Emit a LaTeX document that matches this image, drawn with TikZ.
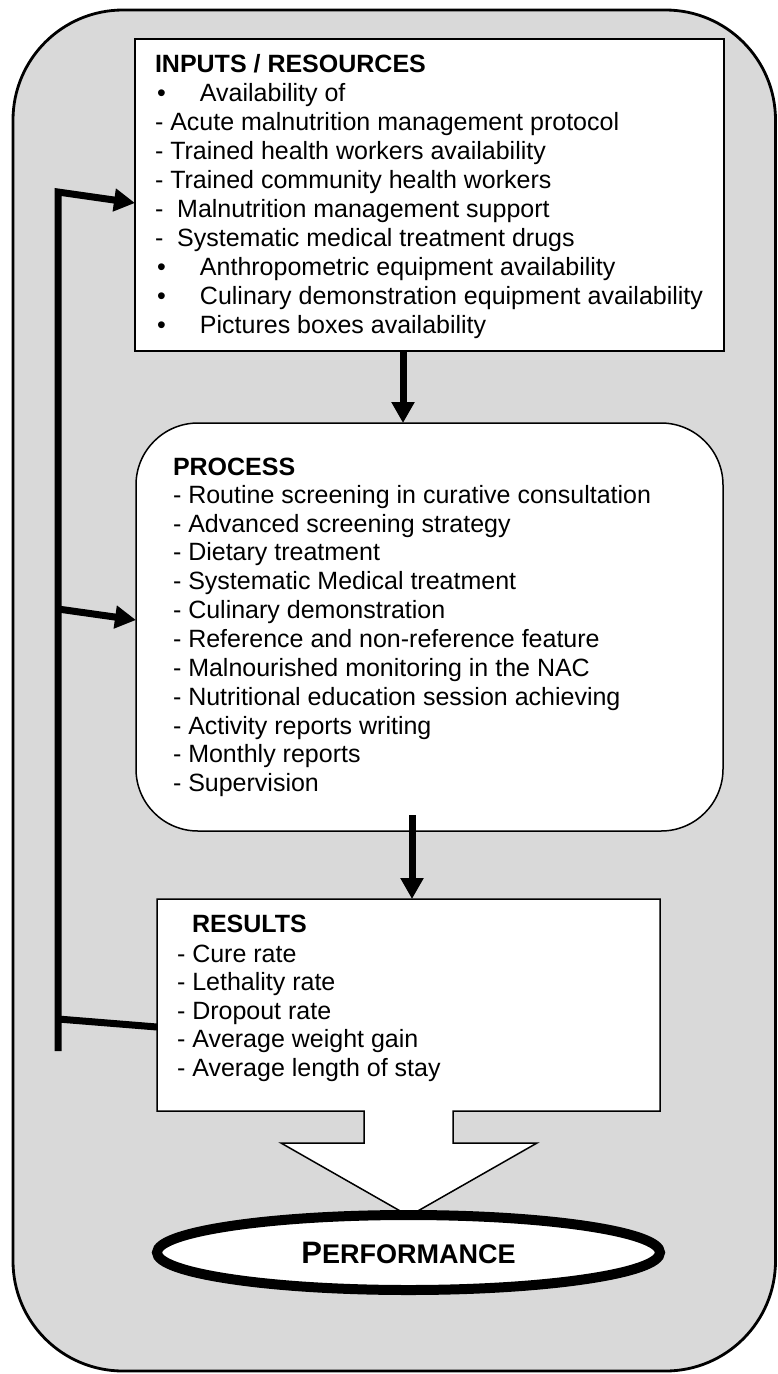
\documentclass[tikz,border=0pt]{standalone}
\usepackage{fontspec}
\setmainfont{Liberation Sans}
\usetikzlibrary{arrows.meta,shapes.geometric}
\definecolor{bg}{HTML}{D9D9D9}
\newcommand\mybul{\makebox[45pt][l]{\hspace{2pt}•}}
\begin{document}
\begin{tikzpicture}[x=1pt,y=-1pt,
  txt/.style={anchor=base west, inner sep=0, outer sep=0, font=\fontsize{25}{29}\selectfont},
  ttl/.style={txt, font=\fontsize{25}{29}\selectfont\bfseries},
  box/.style={draw, line width=1.5pt, fill=white, inner sep=0, outer sep=0, anchor=north west},
  flow/.style={line width=7pt, -{Triangle[length=21pt,width=22pt]}},
  fb/.style={line width=7pt}]
\useasboundingbox (0,0) rectangle (777,1374);
% frame
\node[draw, line width=2.8pt, fill=bg, rounded corners=110pt, inner sep=0, outer sep=0,
      anchor=north west, minimum width=762.5pt, minimum height=1361pt] (frame) at (13,10) {};
% boxes
\node[box, minimum width=589pt, minimum height=312pt] (inputs) at (135,39) {};
\node[box, rounded corners=62pt, minimum width=587pt, minimum height=408pt] (process) at (136,423) {};
\node[inner sep=0, outer sep=0, anchor=north west, minimum width=503pt, minimum height=212pt] (results) at (157,899) {};
\draw[line width=1.5pt, fill=white, line join=miter]
  (results.north west) -- (results.north east) -- (results.south east)
  -- (453,1111) -- (453,1143) -- (537,1143) -- (409,1216) -- (281,1143)
  -- (364,1143) -- (364,1111) -- (results.south west) -- cycle;
\node[ellipse, draw, line width=10pt, fill=white, minimum width=503pt, minimum height=75pt, inner sep=0]
  (perf) at (408.5,1252.5) {\fontsize{31}{31}\selectfont\bfseries P\fontsize{27}{27}\selectfont ERFORMANCE};
% texts
\node[ttl] (in-t) at (155,72) {INPUTS / RESOURCES};
\foreach \t [count=\k] in {\mybul Availability of,
  - Acute malnutrition management protocol,
  - Trained health workers availability,
  - Trained community health workers,
  -\ \ Malnutrition management support,
  -\ \ Systematic medical treatment drugs,
  \mybul Anthropometric equipment availability,
  \mybul Culinary demonstration equipment availability,
  \mybul Pictures boxes availability}
  \node[txt] (in-\k) at (155,72.7+29*\k) {\t};
\node[ttl] (pr-t) at (173,475) {PROCESS};
\foreach \t [count=\k] in {- Routine screening in curative consultation,
  - Advanced screening strategy,
  - Dietary treatment,
  - Systematic Medical treatment,
  - Culinary demonstration,
  - Reference and non-reference feature,
  - Malnourished monitoring in the NAC,
  - Nutritional education session achieving,
  - Activity reports writing,
  - Monthly reports,
  - Supervision}
  \node[txt] (pr-\k) at (173,474.46+28.84*\k) {\t};
\node[ttl] (re-t) at (192,932) {RESULTS};
\foreach \t [count=\k] in {- Cure rate,
  - Lethality rate,
  - Dropout rate,
  - Average weight gain,
  - Average length of stay}
  \node[txt] (re-\k) at (177,933.5+28.5*\k) {\t};
% connectors
\coordinate (a1) at (403,0);
\coordinate (a2) at (412,815);
\draw[flow] (inputs.south -| a1) -- (process.north -| a1);
\draw[flow] (a2) -- (results.north -| a2);
\coordinate (fbtop) at (58,192);
\coordinate (fbbot) at (58,1051);
\coordinate (fbmid) at (58,609);
\coordinate (fbres) at (58,1019);
\coordinate (y1) at (0,203);
\coordinate (y2) at (0,620);
\coordinate (y3) at (0,1027);
\draw[fb, {Triangle[length=21pt,width=22pt]}-] (inputs.west |- y1) -- (fbtop) -- (fbbot);
\draw[flow] (fbmid) -- (process.west |- y2);
\draw[fb] (fbres) -- (results.west |- y3);
\end{tikzpicture}
\end{document}
